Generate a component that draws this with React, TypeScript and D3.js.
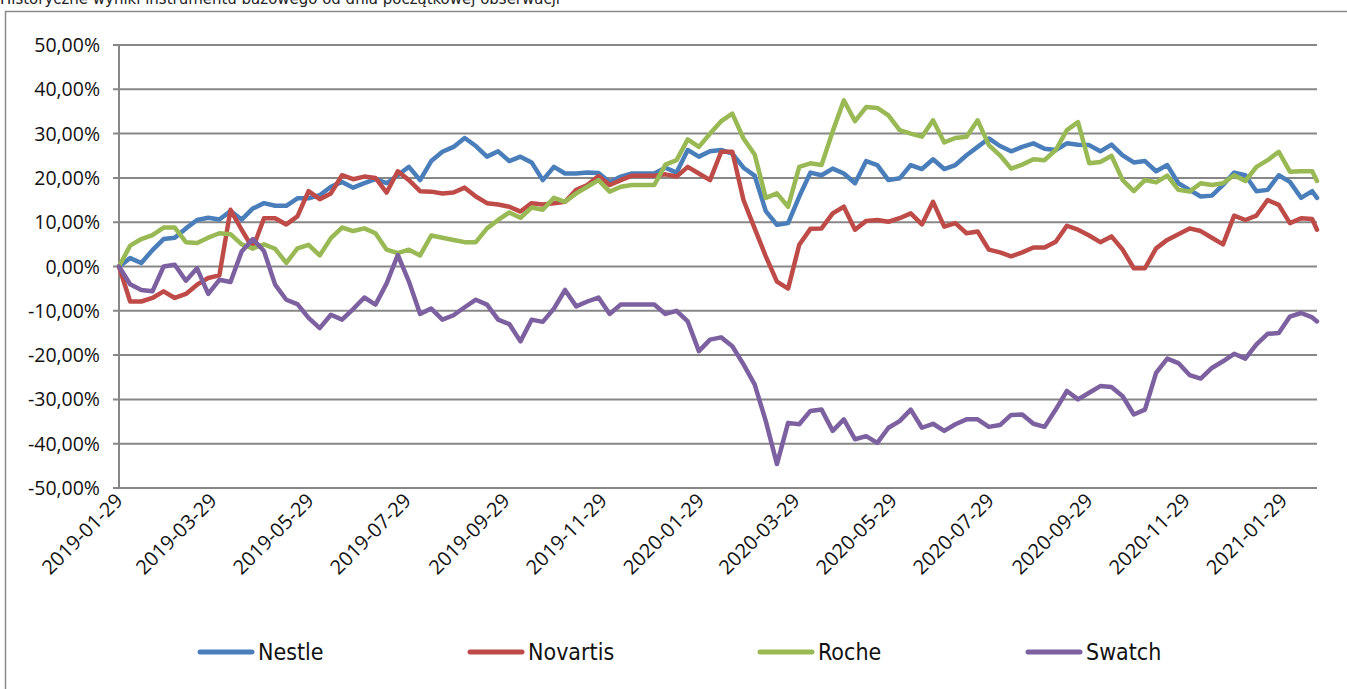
import React from "react";
import * as d3 from "d3";

const seriesNames = ["Nestle", "Novartis", "Roche", "Swatch"];
const seriesColors = ["#4A7EBB", "#BE4B48", "#98B954", "#7D60A0"];

const startDate = new Date(Date.UTC(2019, 0, 29));
const lastDate = new Date(Date.UTC(2021, 1, 19));

const nestle = [
  0, 1.9, 0.8, 3.7, 6.2, 6.5, 8.6, 10.5, 11.0, 10.6, 12.5, 10.6, 13.1, 14.3, 13.7, 13.7, 15.4, 15.4, 16.1, 18.0,
  19.1, 17.8, 18.8, 19.7, 18.8, 20.6, 22.5, 19.5, 23.8, 25.9, 27.0, 29.0, 27.2, 24.8, 26.0, 23.8, 24.8, 23.5, 19.5, 22.5,
  21.0, 21.0, 21.2, 21.1, 19.0, 20.3, 21.0, 21.0, 21.0, 22.3, 21.2, 26.3, 24.8, 26.0, 26.3, 25.5, 22.3, 20.5, 12.5, 9.4,
  9.8, 15.8, 21.2, 20.6, 22.1, 21.0, 18.8, 23.8, 22.9, 19.5, 19.9, 22.9, 22.0, 24.2, 22.0, 22.9, 25.1, 27.0, 28.9, 27.2,
  26.0, 27.0, 27.8, 26.6, 26.3, 27.8, 27.5, 27.4, 26.0, 27.5, 25.1, 23.5, 23.8, 21.5, 22.9, 18.8, 17.3, 15.8, 16.0, 18.4,
  21.2, 20.6, 17.0, 17.3, 20.6, 19.1, 15.5, 17.0, 15.5,
];
const novartis = [
  0, -7.9, -7.9, -7.1, -5.6, -7.1, -6.2, -4.1, -2.6, -2.0, 12.8, 8.3, 4.1, 10.9, 10.9, 9.5, 11.3, 17.0, 15.2, 16.5,
  20.6, 19.7, 20.3, 20.0, 16.7, 21.5, 19.5, 17.0, 16.9, 16.5, 16.7, 17.8, 15.8, 14.3, 14.0, 13.5, 12.4, 14.3, 14.0, 14.3,
  14.6, 17.3, 18.4, 20.4, 18.4, 19.5, 20.5, 20.5, 20.5, 20.8, 20.3, 22.5, 21.0, 19.5, 25.9, 25.9, 15.0, 8.6, 2.3, -3.4,
  -5.0, 4.9, 8.5, 8.6, 12.0, 13.5, 8.3, 10.3, 10.5, 10.1, 10.9, 12.0, 9.5, 14.6, 9.0, 9.8, 7.5, 7.9, 3.8, 3.2,
  2.3, 3.2, 4.3, 4.3, 5.6, 9.2, 8.3, 7.0, 5.5, 6.8, 3.8, -0.4, -0.4, 4.1, 6.0, 7.3, 8.6, 8.0, 6.5, 5.0,
  11.5, 10.5, 11.5, 15.0, 13.9, 9.8, 10.9, 10.7, 8.3,
];
const roche = [
  0, 4.7, 6.2, 7.1, 8.8, 8.8, 5.5, 5.3, 6.5, 7.5, 7.3, 5.0, 4.1, 5.0, 4.0, 0.8, 4.1, 4.9, 2.5, 6.4,
  8.8, 8.0, 8.6, 7.5, 3.8, 3.0, 3.8, 2.5, 7.0, 6.5, 6.0, 5.5, 5.5, 8.6, 10.5, 12.2, 11.0, 13.3, 12.8, 15.5,
  14.6, 16.5, 18.0, 19.5, 16.9, 18.0, 18.4, 18.4, 18.4, 23.0, 24.0, 28.7, 27.0, 30.0, 32.8, 34.5, 28.9, 25.3, 15.5, 16.5,
  13.5, 22.5, 23.3, 22.9, 30.5, 37.5, 32.8, 36.0, 35.8, 34.1, 30.8, 30.0, 29.3, 33.0, 28.0, 29.0, 29.3, 33.0, 27.4, 25.1,
  22.1, 23.0, 24.2, 24.0, 26.3, 30.8, 32.6, 23.3, 23.6, 25.0, 19.5, 17.0, 19.5, 19.0, 20.5, 17.3, 16.9, 18.8, 18.4, 18.8,
  20.6, 19.3, 22.5, 24.0, 25.9, 21.4, 21.5, 21.5, 19.3,
];
const swatch = [
  0, -4.0, -5.3, -5.6, 0.0, 0.4, -3.2, -0.4, -6.2, -3.0, -3.5, 3.4, 6.2, 3.5, -4.1, -7.5, -8.5, -11.6, -13.9, -10.9,
  -12.0, -9.6, -7.0, -8.6, -3.8, 2.6, -3.4, -10.7, -9.5, -12.0, -11.0, -9.2, -7.5, -8.6, -12.0, -13.0, -16.9, -12.0, -12.5, -9.5,
  -5.3, -9.0, -7.9, -7.0, -10.7, -8.6, -8.6, -8.6, -8.6, -10.7, -10.0, -12.4, -19.1, -16.5, -16.0, -18.0, -22.1, -26.6, -34.9, -44.6,
  -35.3, -35.6, -32.6, -32.3, -37.1, -34.5, -39.0, -38.3, -39.8, -36.4, -34.9, -32.3, -36.4, -35.5, -37.1, -35.6, -34.5, -34.5, -36.2, -35.8,
  -33.5, -33.4, -35.5, -36.2, -32.3, -28.1, -30.0, -28.5, -27.0, -27.2, -29.3, -33.4, -32.3, -24.0, -20.8, -21.8, -24.5, -25.3, -22.9, -21.4,
  -19.7, -20.8, -17.6, -15.2, -15.0, -11.3, -10.5, -11.5, -12.4,
];

const tickLabels = [
  "2019-01-29", "2019-03-29", "2019-05-29", "2019-07-29", "2019-09-29", "2019-11-29", "2020-01-29",
  "2020-03-29", "2020-05-29", "2020-07-29", "2020-09-29", "2020-11-29", "2021-01-29",
];
const yTicks = [0.5, 0.4, 0.3, 0.2, 0.1, 0, -0.1, -0.2, -0.3, -0.4, -0.5];
const titleText = "Historyczne wyniki instrumentu bazowego od dnia początkowej obserwacji";

// weekly observation dates plus the final observation
const obsDates: Date[] = [];
for (let i = 0; i < nestle.length - 1; i++) obsDates.push(d3.utcDay.offset(startDate, 7 * i));
obsDates.push(lastDate);

const allSeries = [nestle, novartis, roche, swatch];

const locale = d3.formatLocale({
  decimal: ",",
  thousands: " ",
  grouping: [3],
  currency: ["", " zł"],
  minus: "-",
});
const fmtPct = locale.format(".2%");

export default function App() {
  const W = 1347;
  const H = 689;
  const left = 119;
  const right = 1317;
  const top = 45;
  const bottom = 488;

  const x = d3.scaleUtc().domain([startDate, lastDate]).range([left, right]);
  const y = d3.scaleLinear().domain([-0.5, 0.5]).range([bottom, top]);

  const line = d3
    .line<number>()
    .x((_, i) => x(obsDates[i]))
    .y((v) => y(v / 100))
    .curve(d3.curveLinear);

  const font = "'Open Sans', 'DejaVu Sans', sans-serif";
  const legendX = [200, 470, 760, 1028];

  return (
    <svg
      width={W}
      height={H}
      style={{ position: "absolute", left: 0, top: 0, background: "#fff" }}
    >
      <rect x={0} y={0} width={W} height={H} fill="#fff" />
      <text
        x={0}
        y={4}
        fontFamily="'Liberation Sans Narrow', 'DejaVu Sans Condensed', sans-serif"
        fontSize={15}
        textLength={560}
        lengthAdjust="spacingAndGlyphs"
        fill="#222"
      >
        {titleText}
      </text>
      <rect x={5.5} y={11.5} width={W + 20} height={H + 20} fill="none" stroke="#8a8a8a" strokeWidth={1.5} />

      {yTicks.map((t) => (
        <g key={t}>
          <line x1={left - 6} x2={right} y1={y(t)} y2={y(t)} stroke="#878787" strokeWidth={2} />
          <text
            x={100}
            y={y(t) + 7}
            textAnchor="end"
            fontFamily={font}
            fontSize={19.5}
            fill="#111"
          >
            {fmtPct(t)}
          </text>
        </g>
      ))}
      <line x1={left} x2={left} y1={top} y2={bottom} stroke="#878787" strokeWidth={2} />

      {tickLabels.map((lbl) => {
        const tx = x(new Date(lbl + "T00:00:00Z"));
        return (
          <text
            key={lbl}
            transform={`translate(${tx + 5},${bottom + 14}) rotate(-45)`}
            textAnchor="end"
            fontFamily={font}
            fontSize={20}
            fill="#111"
          >
            {lbl}
          </text>
        );
      })}

      {allSeries.map((s, k) => (
        <path
          key={seriesNames[k]}
          d={line(s) || ""}
          fill="none"
          stroke={seriesColors[k]}
          strokeWidth={4.5}
          strokeLinejoin="round"
          strokeLinecap="round"
        />
      ))}

      {seriesNames.map((n, k) => (
        <g key={n}>
          <line
            x1={legendX[k]}
            x2={legendX[k] + 52}
            y1={652}
            y2={652}
            stroke={seriesColors[k]}
            strokeWidth={5}
            strokeLinecap="round"
          />
          <text
            x={legendX[k] + 58}
            y={660}
            fontFamily="'Liberation Sans Narrow', 'DejaVu Sans Condensed', sans-serif"
            fontSize={23}
            fill="#111"
          >
            {n}
          </text>
        </g>
      ))}
    </svg>
  );
}
